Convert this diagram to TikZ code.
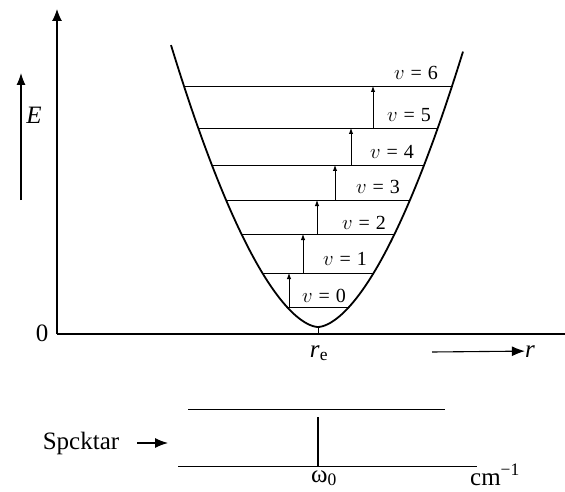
\documentclass[tikz,border=0pt]{standalone}
\usepackage{fontspec}
\setmainfont{Liberation Serif}
\usetikzlibrary{arrows.meta}
\tikzset{
  axisline/.style={line width=1.1pt},
  potcurve/.style={line width=1.8pt},
  levline/.style={line width=0.9pt},
  levarrow/.style={line width=0.9pt,-{Latex[length=6pt,width=4.5pt]}},
  bigarrow/.style={line width=1.1pt,-{Latex[length=13pt,width=10pt]}},
  mainlab/.style={inner sep=0pt,font=\fontsize{25}{28}\selectfont},
  levlab/.style={inner sep=0pt,font=\fontsize{20}{23}\selectfont},
}
\begin{document}
\begin{tikzpicture}[x=1pt,y=-1pt]
\useasboundingbox (0,0) rectangle (565,492);
% axes
\coordinate (O) at (57,334);
\coordinate (Ytop) at (57,9);
\coordinate (Xend) at (565,334);
\draw[axisline,-{Latex[length=12pt,width=10pt]}] (O) -- (Ytop);
\draw[axisline] (O) -- (Xend);
\node[mainlab] (zero) at (42,333) {0};
% E arrow
\coordinate (Ea) at (21,200);
\coordinate (Eb) at (21,73);
\draw[axisline,-{Latex[length=12pt,width=9pt]}] (Ea) -- (Eb);
\node[mainlab] (Elab) at (34,115) {\textit{E}};
% potential curve
\draw[potcurve] plot[domain=-147:145,samples=119,smooth] ({\x+318},{327-0.0583*abs(\x)^1.7});
% tick at r_e
\coordinate (rebot) at (318,327);
\coordinate (retop) at (318,334);
\draw[levline] (rebot) -- (retop);
\node[mainlab,anchor=base] (re) at (319,357) {\textit{r}\textsubscript{e}};
% r arrow
\coordinate (ra) at (432,352);
\node[mainlab,anchor=base] (rlab) at (530,357) {\textit{r}};
\draw[bigarrow] (ra) -- (rlab.west);
% levels
\foreach \n/\y/\w in {0/307/31,1/273/55.6,2/234/76.6,3/200/91.9,4/165/106.1,5/128/119.7,6/86/134}{
  \coordinate (L\n) at ({318-\w},\y);
  \coordinate (R\n) at ({318+\w},\y);
  \draw[levline] (L\n) -- (R\n);
}
% transition arrows
\foreach \x/\ya/\yb in {289/307/273,303/273/234,317/234/200,335/200/165,351/165/128,373/128/86}{
  \draw[levarrow] (\x,\ya) -- (\x,\yb);
}
% level labels
\foreach \n/\x/\y in {0/324/296,1/345/259,2/364/223,3/378/187,4/392/152,5/409/115,6/416/73}{
  \node[levlab] (v\n) at (\x,\y) {$v$\hspace{0.3em}=\hspace{0.3em}\n};
}
% spectrum
\coordinate (st1) at (188,409);
\coordinate (st2) at (445,409);
\coordinate (sb1) at (178,466);
\coordinate (sb2) at (477,466);
\coordinate (sp1) at (318,417);
\draw[levline] (st1) -- (st2);
\draw[levline] (sb1) -- (sb2);
\draw[line width=1.4pt] (sp1) -- (sb1 -| sp1);
\node[mainlab,anchor=base] (spek) at (81,449) {Spcktar};
\coordinate (spa) at (137,443);
\coordinate (spb) at (168,443);
\draw[bigarrow] (spa) -- (spb);
\node[mainlab,anchor=base west] (omega) at (311,482) {ω\textsubscript{0}};
\node[mainlab,anchor=base west] (cm) at (470,485) {cm\textsuperscript{−1}};
\end{tikzpicture}
\end{document}
